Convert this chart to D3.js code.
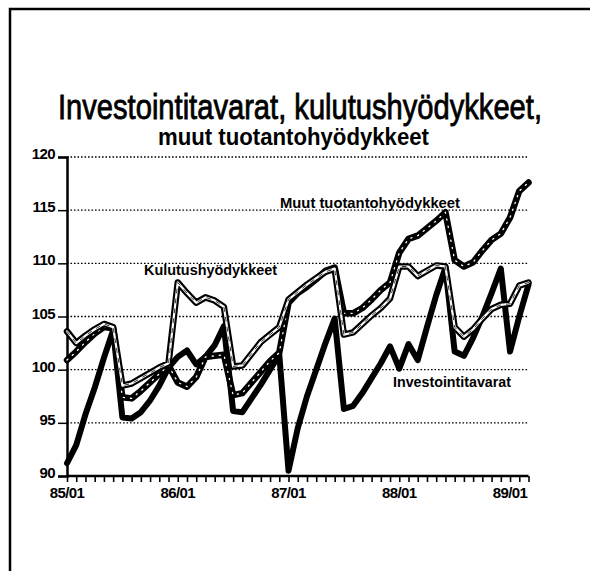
<!DOCTYPE html>
<html>
<head>
<meta charset="utf-8">
<script src="https://cdn.jsdelivr.net/npm/d3@7"></script>
<style>
html,body{margin:0;padding:0;background:#fff;}
svg{display:block;}
text{font-family:"Liberation Sans",Arial,Helvetica,sans-serif;fill:#000;}
</style>
</head>
<body>
<svg id="chart" width="590" height="571"></svg>
<script>
// ---- data ----
const years = ["85", "86", "87", "88", "89"];
const months = [];
years.forEach(y => { for (let m = 1; m <= 12; m++) months.push(y + "/" + String(m).padStart(2, "0")); });
months.length = 51; // 85/01 .. 89/03

const investointitavarat = [
  91.2, 92.9, 95.8, 98.3, 101.1, 103.7, 95.5, 95.4, 96.0, 97.1, 98.5, 100.2,
  101.2, 101.8, 100.5, 101.2, 102.3, 104.1, 96.1, 96.0, 97.3, 98.6, 100.0, 101.4,
  90.5, 94.5, 97.5, 100.0, 102.5, 104.8, 96.3, 96.6, 97.8, 99.2, 100.6, 102.2,
  100.1, 102.4, 100.9, 104.0, 107.0, 109.6, 101.7, 101.3, 103.0, 105.0, 107.2, 109.5,
  101.7, 105.0, 108.0
];
const kulutushyodykkeet = [
  103.6, 102.5, 103.2, 103.8, 104.3, 104.0, 98.5, 98.7, 99.2, 99.7, 100.2, 100.6,
  108.2, 107.2, 106.3, 106.8, 106.5, 105.9, 100.3, 100.4, 101.5, 102.6, 103.3, 104.0,
  106.6, 107.3, 108.0, 108.6, 109.2, 109.5, 103.3, 103.5, 104.3, 105.1, 105.8, 106.7,
  109.7, 109.7, 108.8, 109.3, 109.8, 109.7, 104.0, 103.1, 103.8, 104.8, 105.7, 106.1,
  106.2, 107.9, 108.2
];
const muutTuotantohyodykkeet = [
  100.9, 101.7, 102.6, 103.4, 104.0, 103.9, 97.4, 97.3, 98.0, 98.8, 99.6, 100.4,
  98.8, 98.4, 99.3, 101.2, 101.3, 101.4, 97.6, 97.8, 98.8, 99.8, 100.8, 101.6,
  106.3, 107.2, 107.8, 108.5, 109.3, 109.6, 105.3, 105.3, 105.8, 106.6, 107.5, 108.2,
  111.0, 112.3, 112.6, 113.3, 114.0, 114.8, 110.3, 109.7, 110.1, 111.2, 112.2, 112.8,
  114.3, 116.8, 117.6
];
const yTicks = [90, 95, 100, 105, 110, 115, 120];
const xLabels = ["85/01", "86/01", "87/01", "88/01", "89/01"];

const titleText = "Investointitavarat, kulutushyödykkeet,";
const subtitleText = "muut tuotantohyödykkeet";

// ---- layout ----
const svg = d3.select("#chart");
const x = d3.scaleLinear().domain([0, months.length - 1]).range([67, 528.5]);
const y = d3.scaleLinear().domain([90, 120]).range([476, 157]);

// frame (left and top edges visible)
svg.append("path").attr("d", "M10,571 L10,9 L590,9")
  .attr("fill", "none").attr("stroke", "#000").attr("stroke-width", 2.5);

// titles
svg.append("text").attr("transform", "translate(58,119) scale(1,1.17)")
  .attr("x", 0).attr("y", 0)
  .attr("textLength", 484).attr("lengthAdjust", "spacingAndGlyphs")
  .style("font-size", "30px").style("stroke", "#000").style("stroke-width", 0.7)
  .text(titleText);
svg.append("text").attr("x", 158).attr("y", 145)
  .attr("textLength", 271).attr("lengthAdjust", "spacingAndGlyphs")
  .style("font-size", "23px").style("font-weight", "bold")
  .text(subtitleText);

// gridlines (dotted)
svg.append("g").selectAll("line").data(yTicks.filter(t => t > 90)).join("line")
  .attr("x1", x(0)).attr("x2", x(months.length - 1))
  .attr("y1", d => y(d)).attr("y2", d => y(d))
  .attr("stroke", "#000").attr("stroke-width", 1.4).attr("stroke-dasharray", "1.6,1.9");

// y axis
const yAxis = d3.axisLeft(y).tickValues(yTicks).tickSize(9).tickFormat(d3.format("d"));
const gy = svg.append("g").attr("transform", `translate(${x(0)},0)`).call(yAxis);
gy.select(".domain").attr("stroke-width", 2.5);
gy.selectAll(".tick line").attr("stroke-width", 1.5);
gy.selectAll(".tick text").attr("x", -12).attr("dy", "1.5px")
  .style("font-size", "15px").style("font-weight", "bold").style("letter-spacing", "-0.6px")
  .style("font-family", "'Liberation Sans',Arial,sans-serif");

// x axis
const xAxis = d3.axisBottom(x).tickValues(d3.range(months.length)).tickSize(6).tickFormat("");
const gx = svg.append("g").attr("transform", `translate(0,${y(90)})`).call(xAxis);
gx.select(".domain").attr("stroke-width", 2.5).attr("d", `M${x(0)},0H${x(months.length - 1)}`);
gx.selectAll(".tick line").attr("stroke-width", 1.6);
svg.append("g").selectAll("text").data(xLabels).join("text")
  .attr("x", d => x(months.indexOf(d))).attr("y", 498)
  .attr("text-anchor", "middle")
  .style("font-size", "15px").style("font-weight", "bold").style("letter-spacing", "-0.6px")
  .text(d => d);

// lines
const line = d3.line().x((d, i) => x(i)).y(d => y(d)).curve(d3.curveLinear);
const g = svg.append("g").attr("fill", "none").attr("stroke-linejoin", "round").attr("stroke-linecap", "round");

// Investointitavarat: solid thick black
g.append("path").datum(investointitavarat).attr("d", line)
  .attr("stroke", "#000").attr("stroke-width", 6);

// Muut tuotantohyödykkeet: thick black with dotted white centre
g.append("path").datum(muutTuotantohyodykkeet).attr("d", line)
  .attr("stroke", "#000").attr("stroke-width", 6.5);
g.append("path").datum(muutTuotantohyodykkeet).attr("d", line)
  .attr("stroke", "#fff").attr("stroke-width", 1.3).attr("stroke-dasharray", "1.2,6");

// Kulutushyödykkeet: double line (black outline, white centre)
g.append("path").datum(kulutushyodykkeet).attr("d", line)
  .attr("stroke", "#000").attr("stroke-width", 6.5);
g.append("path").datum(kulutushyodykkeet).attr("d", line)
  .attr("stroke", "#fff").attr("stroke-width", 2.2);
g.append("path").datum(kulutushyodykkeet).attr("d", line)
  .attr("stroke", "#000").attr("stroke-width", 0.8).attr("stroke-dasharray", "4,6");

// series labels
const labels = [
  { text: "Kulutushyödykkeet", x: 144, y: 275, w: 133 },
  { text: "Muut tuotantohyödykkeet", x: 280, y: 208, w: 180 },
  { text: "Investointitavarat", x: 393, y: 387, w: 118 }
];
svg.append("g").selectAll("text").data(labels).join("text")
  .attr("x", d => d.x).attr("y", d => d.y)
  .attr("textLength", d => d.w).attr("lengthAdjust", "spacingAndGlyphs")
  .style("font-size", "15px").style("font-weight", "bold")
  .text(d => d.text);
</script>
</body>
</html>
